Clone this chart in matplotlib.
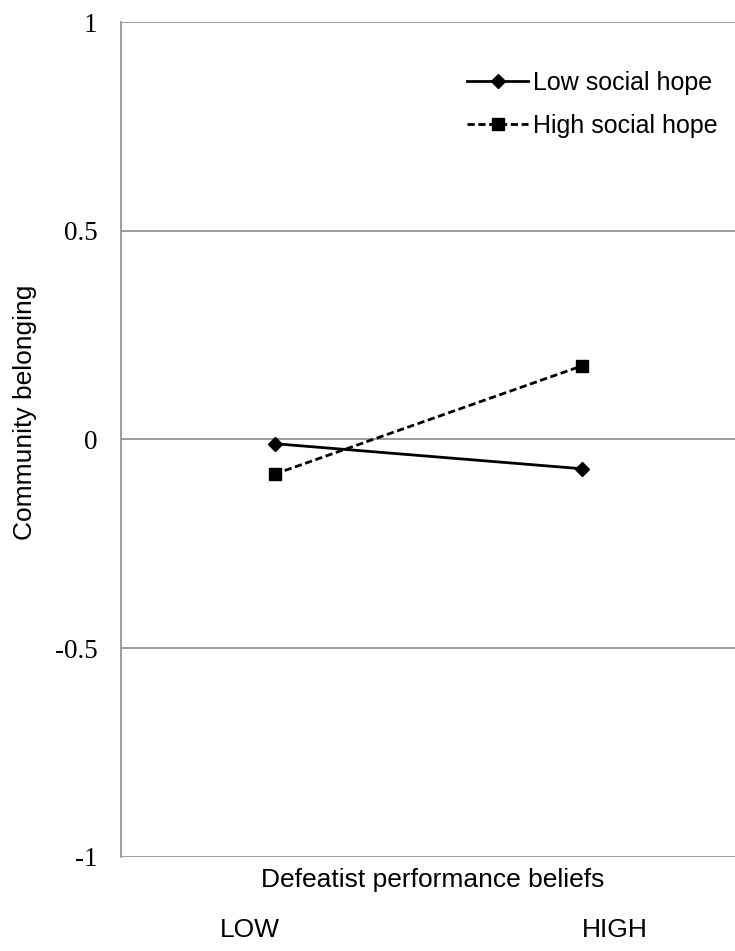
import matplotlib
matplotlib.use("Agg")
import matplotlib.pyplot as plt
import numpy as np

# valeurs
levels = ["LOW", "HIGH"]
low_hope = [-0.01, -0.07]
high_hope = [-0.083, 0.176]
series_names = ["Low social hope", "High social hope"]
y_ticks = [-1, -0.5, 0, 0.5, 1]
y_ticklabels = ["-1", "-0.5", "0", "0.5", "1"]

SANS = "Liberation Sans"
SERIF = "Liberation Serif"
GRID = "#8c8c8c"

W, H = 735, 951
fig = plt.figure(figsize=(W / 100, H / 100), dpi=100)
ax = fig.add_axes([121 / W, 1 - 857 / H, 1 - 121 / W, (857 - 22) / H])

x = np.arange(len(levels))
ax.plot(x, low_hope, color="black", lw=2, marker="D", ms=7.5,
        label=series_names[0])
ax.plot(x, high_hope, color="black", lw=2, ls=(0, (2.6, 1.3)), marker="s",
        ms=8.5, label=series_names[1])

ax.set_xlim(-0.5, 1.5)
ax.set_ylim(-1, 1)
ax.set_yticks(y_ticks)
ax.set_yticklabels(y_ticklabels, fontfamily=SERIF, fontsize=19.5)
ax.tick_params(axis="y", length=0, pad=17)
ax.set_xticks([])
ax.yaxis.grid(True, color=GRID, lw=1.2)
ax.set_axisbelow(True)
for s in ["top", "right", "bottom"]:
    ax.spines[s].set_visible(False)
ax.spines["left"].set_color(GRID)
ax.spines["left"].set_linewidth(1.2)

fig.text(25 / W, 1 - 412 / H, "Community belonging", rotation=90,
         ha="center", va="center", fontfamily=SANS, fontsize=19)

fig.text(433 / W, 1 - 880 / H, "Defeatist performance beliefs",
         ha="center", va="center", fontfamily=SANS, fontsize=19)
for lab, px in zip(levels, [250, 615]):
    fig.text(px / W, 1 - 930 / H, lab, ha="center", va="center",
             fontfamily=SANS, fontsize=19)

leg = ax.legend(loc="upper left", bbox_to_anchor=((467 - 121) / 614, (857 - 71) / 835),
                frameon=False, handlelength=2.45, handletextpad=0.2,
                borderpad=0, borderaxespad=0, labelspacing=0.75,
                prop={"family": SANS, "size": 18})

fig.savefig("out.png", dpi=100)
